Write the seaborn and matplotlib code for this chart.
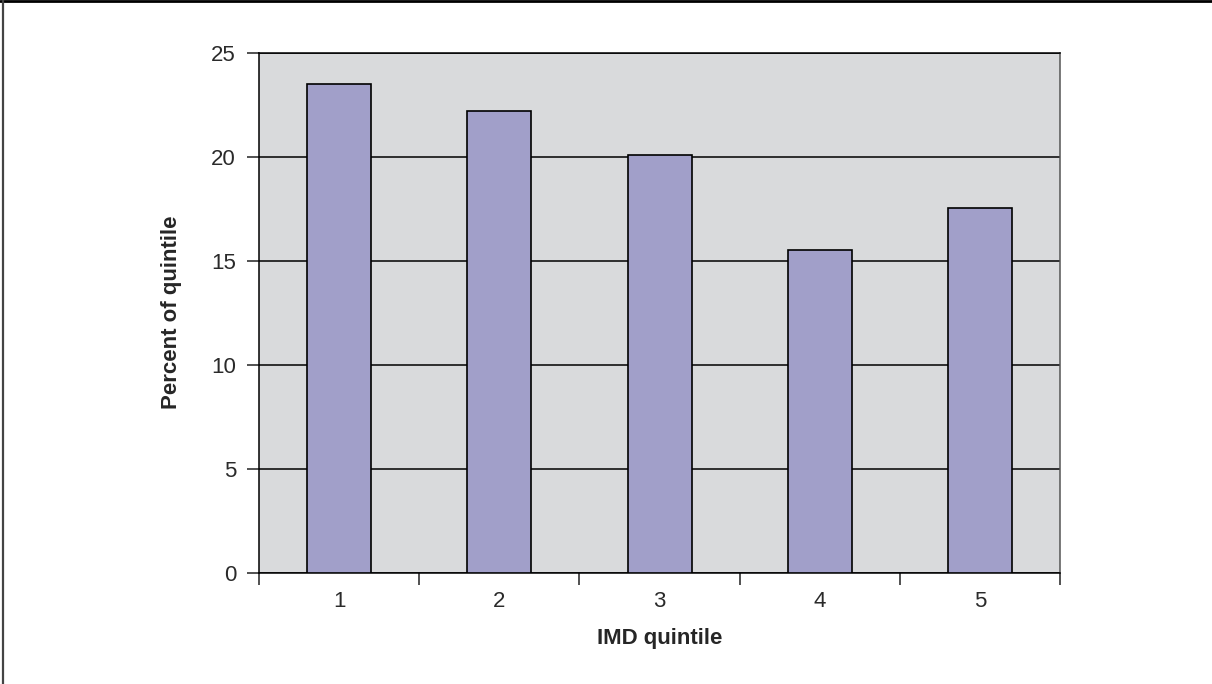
import matplotlib
matplotlib.use("Agg")
import matplotlib.pyplot as plt
import seaborn as sns
import pandas as pd
from matplotlib.lines import Line2D
from matplotlib.ticker import FixedLocator

quintiles = ["1", "2", "3", "4", "5"]
percent = [23.5, 22.2, 20.1, 15.5, 17.55]

df = pd.DataFrame({"IMD quintile": quintiles, "Percent of quintile": percent})

sns.set_theme(style="white")
plt.rcParams["font.family"] = ["Liberation Sans", "DejaVu Sans"]

fig = plt.figure(figsize=(12.12, 6.84), dpi=100)
ax = fig.add_axes([0.2137, 0.163, 0.661, 0.760])
ax.set_facecolor("#d9dadc")

sns.barplot(data=df, x="IMD quintile", y="Percent of quintile", color="#a19fc9",
            edgecolor="black", linewidth=1.2, width=0.4, saturation=1, ax=ax, zorder=3)

ax.set_xlim(-0.5, 4.5)
ax.set_ylim(0, 25)
ax.set_yticks([0, 5, 10, 15, 20, 25])
ax.yaxis.grid(True, color="black", linewidth=1.1, zorder=0)
ax.set_axisbelow(True)

# tick marks sit between categories, labels sit under bars
ax.xaxis.set_minor_locator(FixedLocator([-0.5, 0.5, 1.5, 2.5, 3.5, 4.5]))
ax.tick_params(axis="x", which="major", length=0, pad=13, labelsize=16, colors="#2a2a2a")
ax.tick_params(axis="x", which="minor", length=8.5, width=1.1, color="#222222", bottom=True)
ax.tick_params(axis="y", which="major", length=8.5, width=1.1, color="#222222",
               left=True, labelsize=16, pad=8, labelcolor="#2a2a2a")

for side in ["left", "bottom", "top"]:
    ax.spines[side].set_color("black")
    ax.spines[side].set_linewidth(1.1)
ax.spines["right"].set_color("#555555")
ax.spines["right"].set_linewidth(1.1)

ax.set_xlabel("IMD quintile", fontsize=16, fontweight="bold", labelpad=12)
ax.set_ylabel("Percent of quintile", fontsize=16, fontweight="bold", labelpad=21)

# frame only on top and left edges
fig.lines.append(Line2D([0, 1], [0.9985, 0.9985], transform=fig.transFigure, color="black", linewidth=2))
fig.lines.append(Line2D([0.0022, 0.0022], [0, 1], transform=fig.transFigure, color="#444444", linewidth=1.6))

fig.savefig("out.png", dpi=100)
